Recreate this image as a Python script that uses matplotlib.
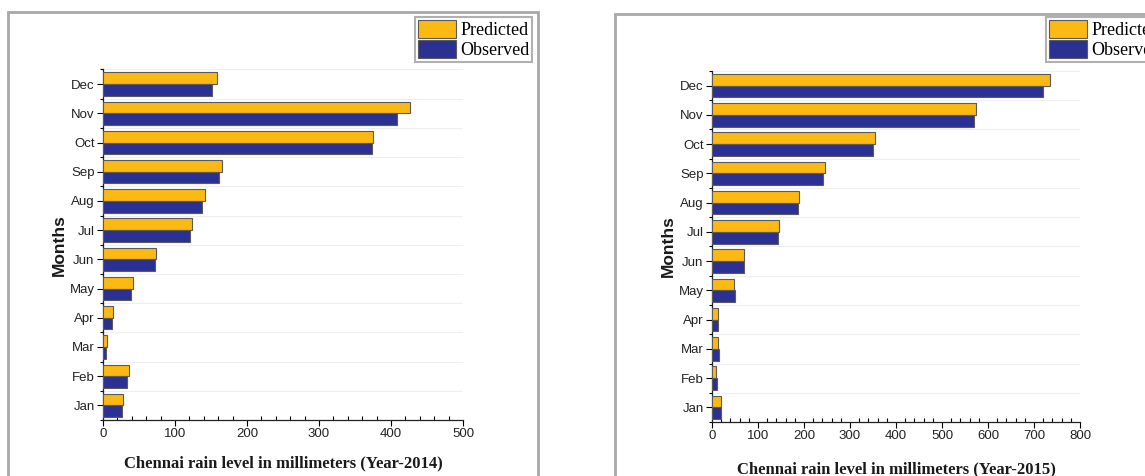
import matplotlib
matplotlib.use("Agg")
import matplotlib.pyplot as plt
from matplotlib.patches import Rectangle, Patch
from matplotlib.ticker import MultipleLocator
import numpy as np

months = ["Jan", "Feb", "Mar", "Apr", "May", "Jun",
          "Jul", "Aug", "Sep", "Oct", "Nov", "Dec"]

predicted_2014 = [28, 36, 5, 14, 41, 74, 123, 141, 165, 375, 426, 159]
observed_2014 = [27, 34, 4, 12, 39, 72, 121, 138, 161, 373, 409, 152]

predicted_2015 = [20, 9, 13, 12, 48, 69, 146, 190, 245, 355, 574, 734]
observed_2015 = [19, 10, 15, 12, 50, 69, 144, 188, 241, 350, 570, 719]

series_labels = ["Predicted", "Observed"]
colors = ["#FDB913", "#2B3192"]

W, H = 1145, 476
fig = plt.figure(figsize=(W / 100, H / 100), dpi=100)
fig.patch.set_facecolor("white")


def fx(px):
    return px / W


def fy(py):
    return 1 - py / H


# Panel frames
for (x0, y0, x1, y1) in [(8, 12, 538, 490), (615, 14, 1160, 490)]:
    fig.patches.append(Rectangle((fx(x0), fy(y1)), fx(x1 - x0), (y1 - y0) / H,
                                 transform=fig.transFigure, fill=False,
                                 edgecolor="#a8a8a8", linewidth=2.0, zorder=0))


def panel(rect, pred, obs, xmax, year, legend_anchor, legend_loc, xpad):
    ax = fig.add_axes(rect)
    y = np.arange(len(months))
    h = 0.4
    ax.barh(y + h / 2, pred, height=h, color=colors[0], edgecolor="#5a5a5a",
            linewidth=0.8, zorder=3)
    ax.barh(y - h / 2, obs, height=h, color=colors[1], edgecolor="#5a5a5a",
            linewidth=0.8, zorder=3)
    ax.set_ylim(-0.5, len(months) - 0.5)
    ax.set_xlim(0, xmax)
    ax.set_yticks(y)
    ax.set_yticklabels(months, family="Liberation Sans", fontsize=9.5,
                       color="#222222")
    ax.set_yticks(np.arange(-0.5, len(months), 1.0), minor=True)
    ax.xaxis.set_major_locator(MultipleLocator(100))
    ax.xaxis.set_minor_locator(MultipleLocator(20))
    for lab in ax.get_xticklabels():
        lab.set_family("Liberation Sans")
        lab.set_fontsize(9.5)
        lab.set_color("#222222")
    ax.tick_params(axis="both", which="major", direction="out", length=4,
                   width=0.8, pad=2)
    ax.tick_params(axis="x", which="minor", direction="in", length=3, width=0.8)
    ax.tick_params(axis="y", which="minor", direction="out", length=2.5,
                   width=0.8)
    ax.grid(axis="y", which="minor", color="#eeeeee", linewidth=0.8, zorder=0)
    for s in ["top", "right"]:
        ax.spines[s].set_visible(False)
    for s in ["left", "bottom"]:
        ax.spines[s].set_linewidth(0.9)
        ax.spines[s].set_color("#222222")
    ax.set_xlabel(f"Chennai rain level in millimeters (Year-{year})",
                  family="Liberation Serif", fontweight="bold", fontsize=12,
                  labelpad=xpad, color="#1a1a1a")
    ax.set_ylabel("Months", family="Liberation Sans", fontweight="bold",
                  fontsize=12.5, labelpad=2, color="#1a1a1a")
    handles = [Patch(facecolor=c, edgecolor="#5a5a5a", linewidth=0.8)
               for c in colors]
    leg = fig.legend(handles, series_labels, loc=legend_loc,
                     bbox_to_anchor=legend_anchor,
                     bbox_transform=fig.transFigure,
                     prop={"family": "Liberation Serif", "size": 13},
                     handlelength=2.1, handleheight=1.15, handletextpad=0.25,
                     labelspacing=0.08, borderpad=0.15, borderaxespad=0,
                     fancybox=False, framealpha=1)
    leg.get_frame().set_edgecolor("#b0b0b0")
    leg.get_frame().set_linewidth(1.5)
    return ax


panel([fx(103), fy(420), fx(463 - 103), (420 - 69.5) / H],
      predicted_2014, observed_2014, 500, 2014,
      (fx(532), fy(17)), "upper right", 11)
panel([fx(712), fy(422), fx(1080 - 712), (422 - 71) / H],
      predicted_2015, observed_2015, 800, 2015,
      (fx(1046), fy(17)), "upper left", 14)

fig.savefig("out.png", dpi=100)
